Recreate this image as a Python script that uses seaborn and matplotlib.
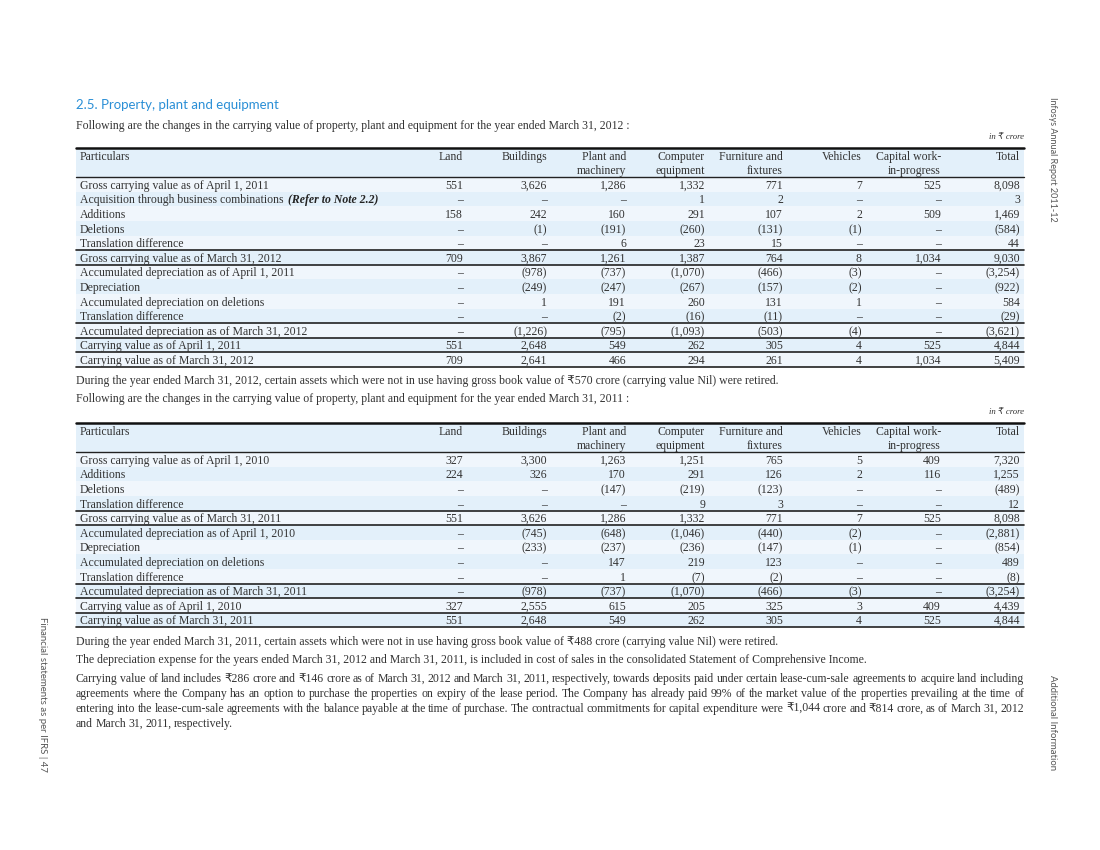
import numpy as np
import matplotlib
matplotlib.use("Agg")
import matplotlib.pyplot as plt
import seaborn as sns
from matplotlib.colors import ListedColormap

# ---- data -------------------------------------------------------------
columns = ["Land", "Buildings", "Plant and\nmachinery", "Computer\nequipment",
           "Furniture and\nfixtures", "Vehicles", "Capital work-\nin-progress", "Total"]

labels_2012 = [
    "Gross carrying value as of April 1, 2011",
    "Acquisition through business combinations",
    "Additions",
    "Deletions",
    "Translation difference",
    "Gross carrying value as of March 31, 2012",
    "Accumulated depreciation as of April 1, 2011",
    "Depreciation",
    "Accumulated depreciation on deletions",
    "Translation difference",
    "Accumulated depreciation as of March 31, 2012",
    "Carrying value as of April 1, 2011",
    "Carrying value as of March 31, 2012",
]
values_2012 = [
    [551, 3626, 1286, 1332, 771, 7, 525, 8098],
    [None, None, None, 1, 2, None, None, 3],
    [158, 242, 160, 291, 107, 2, 509, 1469],
    [None, -1, -191, -260, -131, -1, None, -584],
    [None, None, 6, 23, 15, None, None, 44],
    [709, 3867, 1261, 1387, 764, 8, 1034, 9030],
    [None, -978, -737, -1070, -466, -3, None, -3254],
    [None, -249, -247, -267, -157, -2, None, -922],
    [None, 1, 191, 260, 131, 1, None, 584],
    [None, None, -2, -16, -11, None, None, -29],
    [None, -1226, -795, -1093, -503, -4, None, -3621],
    [551, 2648, 549, 262, 305, 4, 525, 4844],
    [709, 2641, 466, 294, 261, 4, 1034, 5409],
]
breaks_2012 = [5, 6, 10, 11, 12]

labels_2011 = [
    "Gross carrying value as of April 1, 2010",
    "Additions",
    "Deletions",
    "Translation difference",
    "Gross carrying value as of March 31, 2011",
    "Accumulated depreciation as of April 1, 2010",
    "Depreciation",
    "Accumulated depreciation on deletions",
    "Translation difference",
    "Accumulated depreciation as of March 31, 2011",
    "Carrying value as of April 1, 2010",
    "Carrying value as of March 31, 2011",
]
values_2011 = [
    [327, 3300, 1263, 1251, 765, 5, 409, 7320],
    [224, 326, 170, 291, 126, 2, 116, 1255],
    [None, None, -147, -219, -123, None, None, -489],
    [None, None, None, 9, 3, None, None, 12],
    [551, 3626, 1286, 1332, 771, 7, 525, 8098],
    [None, -745, -648, -1046, -440, -2, None, -2881],
    [None, -233, -237, -236, -147, -1, None, -854],
    [None, None, 147, 219, 123, None, None, 489],
    [None, None, 1, -7, -2, None, None, -8],
    [None, -978, -737, -1070, -466, -3, None, -3254],
    [327, 2555, 615, 205, 325, 3, 409, 4439],
    [551, 2648, 549, 262, 305, 4, 525, 4844],
]
breaks_2011 = [4, 5, 9, 10, 11]

title = "2.5. Property, plant and equipment"
intro_2012 = "Following are the changes in the carrying value of property, plant and equipment for the year ended March 31, 2012 :"
retired_2012 = "During the year ended March 31, 2012, certain assets which were not in use having gross book value of \u20b9570 crore (carrying value Nil) were retired."
intro_2011 = "Following are the changes in the carrying value of property, plant and equipment for the year ended March 31, 2011 :"
retired_2011 = "During the year ended March 31, 2011, certain assets which were not in use having gross book value of \u20b9488 crore (carrying value Nil) were retired."
depreciation_note = "The depreciation expense for the years ended March 31, 2012 and March 31, 2011, is included in cost of sales in the consolidated Statement of Comprehensive Income."
land_note = [
    "Carrying value of land includes \u20b9286 crore and \u20b9146 crore as of March 31, 2012 and March 31, 2011, respectively, towards deposits paid under certain lease-cum-sale agreements to acquire land including",
    "agreements where the Company has an option to purchase the properties on expiry of the lease period. The Company has already paid 99% of the market value of the properties prevailing at the time of",
    "entering into the lease-cum-sale agreements with the balance payable at the time of purchase. The contractual commitments for capital expenditure were \u20b91,044 crore and \u20b9814 crore, as of March 31, 2012",
    "and March 31, 2011, respectively.",
]

# ---- style ------------------------------------------------------------
sns.set_theme(style="white")
SERIF = ["Liberation Serif", "DejaVu Sans"]
SANS = ["Lato", "DejaVu Sans"]
plt.rcParams["font.family"] = SERIF
TXT = "#333333"
BLUE = "#2a8fd6"
LIGHT, DARK, HEAD = "#f0f6fc", "#e3f0fa", "#e3f0fa"
FS = 8.5

W, H = 1100, 850
LEFT, RIGHT = 76, 1024
ROW_H = 14.6
BASE = 0.8  # baseline offset inside a row
col_right = [463, 547, 626, 705, 783, 862, 941, 1020]

fig = plt.figure(figsize=(11, 8.5), dpi=100)
page = fig.add_axes([0, 0, 1, 1])
page.set_xlim(0, W)
page.set_ylim(H, 0)
page.axis("off")
renderer = fig.canvas.get_renderer()


def fmt(v):
    if v is None:
        return "\u2013"
    if v < 0:
        return "({:,})".format(-v)
    return "{:,}".format(v)


def draw_table(top, labels, values, breaks, note=None):
    n = len(labels)
    nrows = n + 2
    ax = fig.add_axes([LEFT / W, 1 - (top + nrows * ROW_H) / H,
                       (RIGHT - LEFT) / W, nrows * ROW_H / H])
    shade = np.array([[2], [2]] + [[i % 2] for i in range(n)])
    sns.heatmap(shade, cmap=ListedColormap([LIGHT, DARK, HEAD]), vmin=-0.5, vmax=2.5,
                cbar=False, ax=ax, xticklabels=False, yticklabels=False)
    for s in ax.spines.values():
        s.set_visible(False)
    fx = lambda px: (px - LEFT) / (RIGHT - LEFT)
    # keep every baseline on a whole pixel so rows render evenly
    fy = lambda r: (round(top + (r + BASE) * ROW_H) - top) / ROW_H
    kw = dict(va="baseline", fontsize=FS, color=TXT, family="Liberation Serif")

    ax.text(fx(80), fy(0), "Particulars", ha="left", **kw)
    for c, name in enumerate(columns):
        for k, line in enumerate(name.split("\n")):
            ax.text(fx(col_right[c]), fy(k), line, ha="right", **kw)

    for i, (lab, row) in enumerate(zip(labels, values)):
        y = fy(2 + i)
        t = ax.text(fx(80), y, lab, ha="left", **kw)
        if note is not None and i == note[0]:
            bb = t.get_window_extent(renderer)
            ax.text(fx(80 + bb.width + 4), y, note[1], ha="left", va="baseline",
                    fontsize=FS, color="#222222", style="italic", weight="bold",
                    family="Liberation Serif")
        for c, v in enumerate(row):
            ax.text(fx(col_right[c]), y, fmt(v), ha="right", **kw)

    ax.axhline(0, color="#111111", lw=1.8, clip_on=False)
    ax.axhline(2, color="#222222", lw=1.0, clip_on=False)
    for b in breaks:
        ax.axhline(2 + b, color="#222222", lw=1.2, clip_on=False)
    ax.axhline(nrows, color="#222222", lw=1.2, clip_on=False)


# ---- page text --------------------------------------------------------
page.text(LEFT, 105, title, fontsize=9.5, color=BLUE, family=SANS, va="center")
page.text(LEFT, 126, intro_2012, fontsize=FS, color=TXT, va="center")
page.text(RIGHT, 137, "in \u20b9 crore", fontsize=6.3, color=TXT, style="italic",
          ha="right", va="center")

draw_table(148, labels_2012, values_2012, breaks_2012, note=(1, "(Refer to Note 2.2)"))

page.text(LEFT, 381, retired_2012, fontsize=FS, color=TXT, va="center")
page.text(LEFT, 399, intro_2011, fontsize=FS, color=TXT, va="center")
page.text(RIGHT, 412, "in \u20b9 crore", fontsize=6.3, color=TXT, style="italic",
          ha="right", va="center")

draw_table(423, labels_2011, values_2011, breaks_2011)

page.text(LEFT, 642, retired_2011, fontsize=FS, color=TXT, va="center")
page.text(LEFT, 660, depreciation_note, fontsize=FS, color=TXT, va="center")


def justify(y, line, last=False):
    words = line.split(" ")
    texts = [page.text(0, y, w, fontsize=FS, color=TXT, va="baseline") for w in words]
    widths = [t.get_window_extent(renderer).width for t in texts]
    space = 2.3 if last or len(words) < 2 else (RIGHT - LEFT - sum(widths)) / (len(words) - 1)
    x = LEFT
    for t, w in zip(texts, widths):
        t.set_x(x)
        x += w + space


for k, line in enumerate(land_note):
    justify(682 + 15 * k, line, last=(k == len(land_note) - 1))

# side captions
page.text(1053, 97, "Infosys Annual Report 2011-12", rotation=270, fontsize=6.5,
          color="#555555", family=SANS, ha="center", va="top")
page.text(1053, 675, "Additional Information", rotation=270, fontsize=6.9,
          color="#555555", family=SANS, ha="center", va="top")
page.text(42, 617, "Financial statements as per IFRS | 47", rotation=270, fontsize=6.9,
          color="#555555", family=SANS, ha="center", va="top")

fig.savefig("out.png", dpi=100)
